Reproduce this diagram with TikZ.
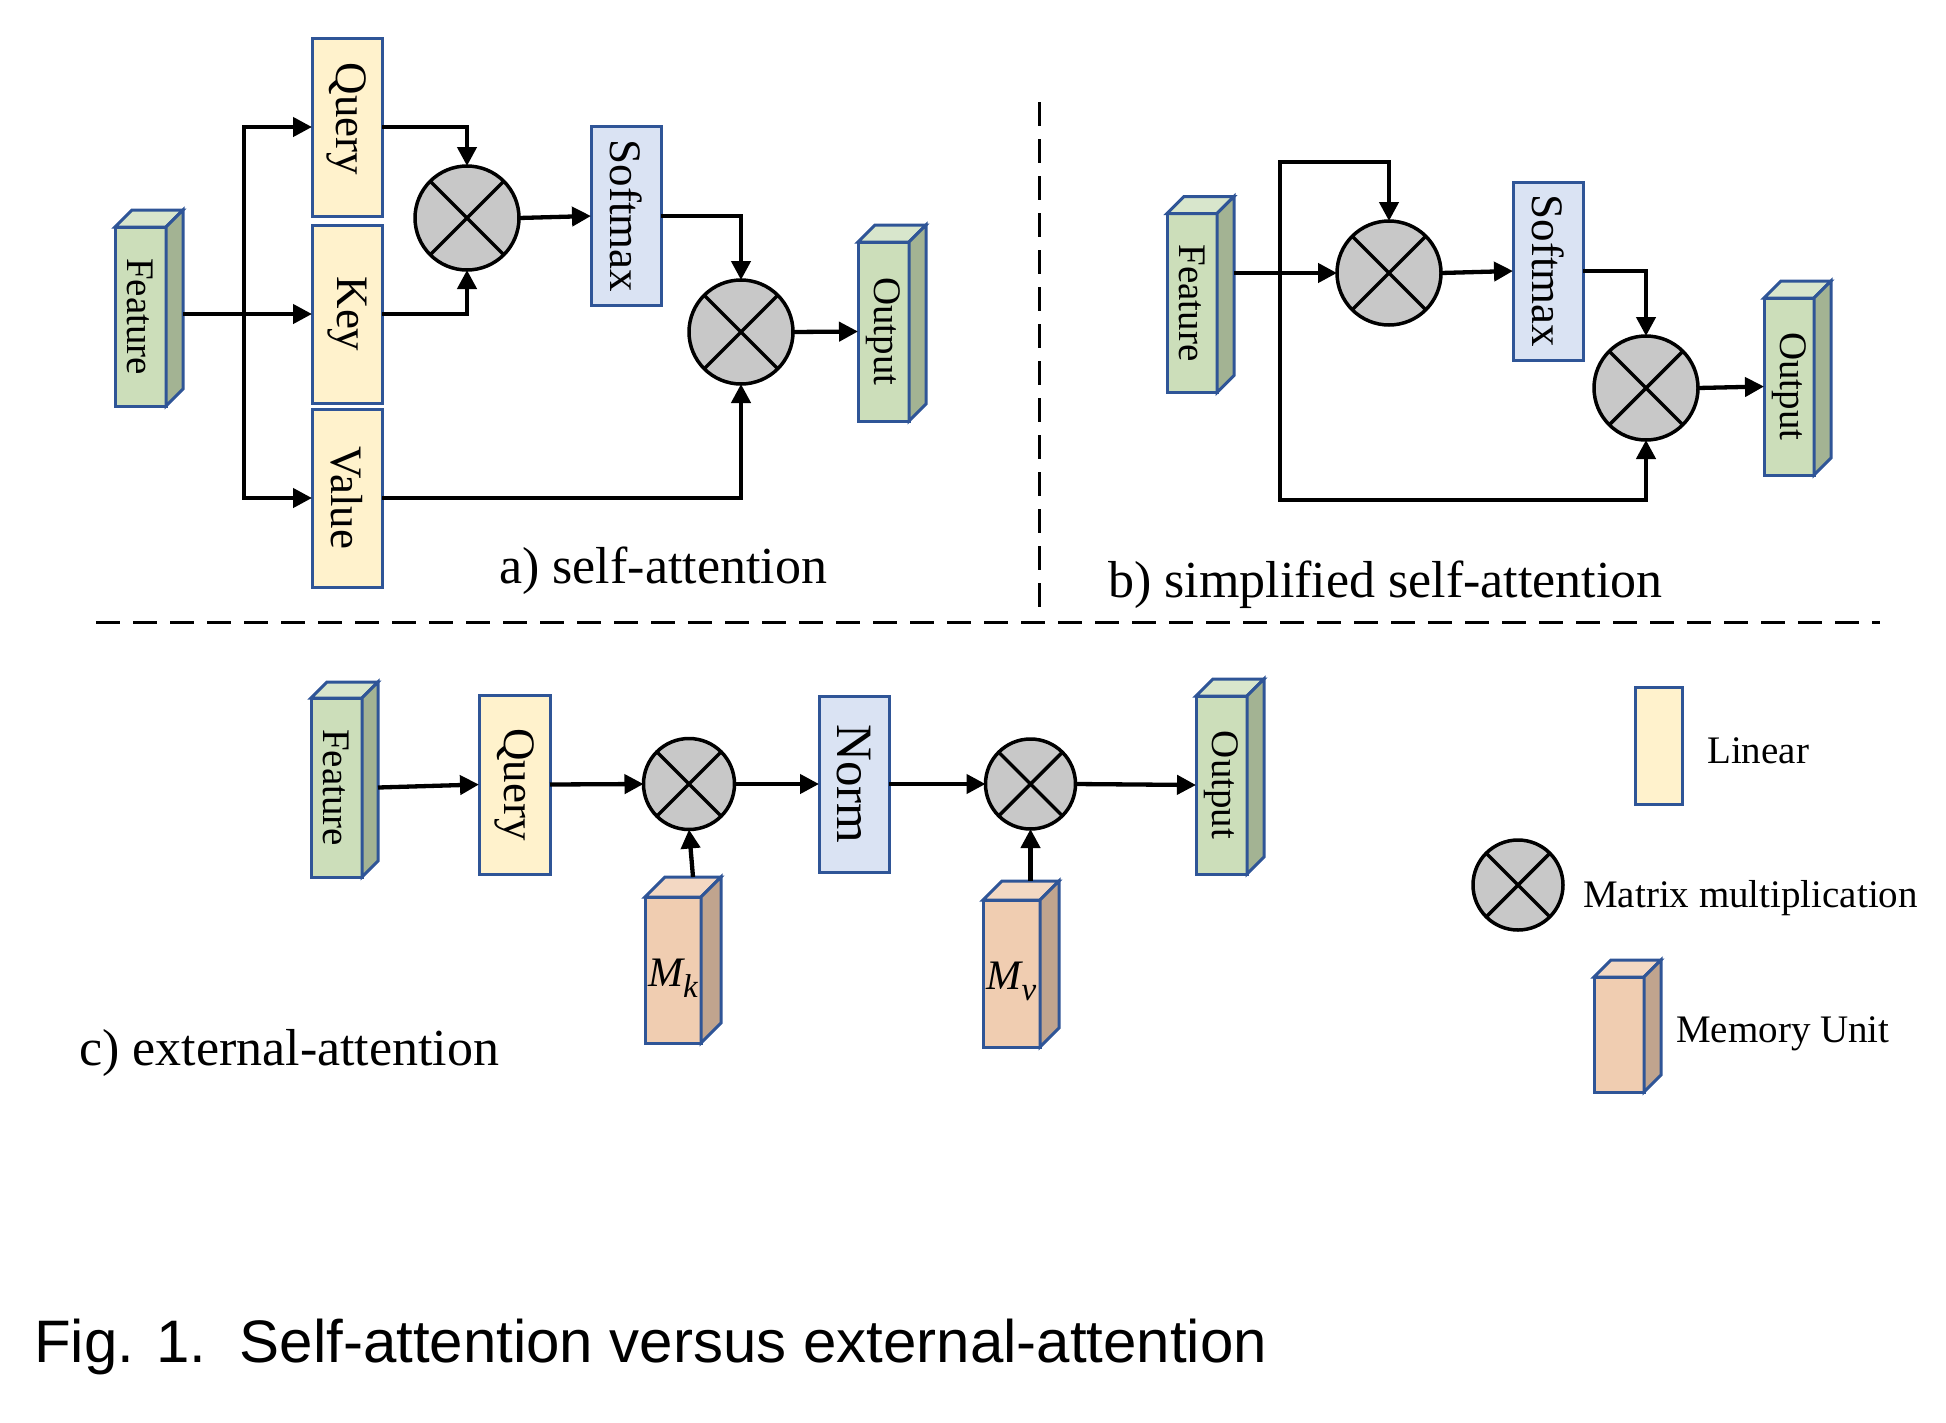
\documentclass[tikz,border=0pt]{standalone}
\usepackage{fontspec}
\setmainfont{Liberation Serif}
\newfontfamily\capfont{Liberation Sans}
\usetikzlibrary{arrows.meta}
\definecolor{bord}{RGB}{47,85,151}
\definecolor{grF}{RGB}{204,222,186}
\definecolor{grS}{RGB}{163,179,147}
\definecolor{grT}{RGB}{216,230,204}
\definecolor{yel}{RGB}{255,242,204}
\definecolor{blu}{RGB}{218,227,243}
\definecolor{orF}{RGB}{240,205,177}
\definecolor{orS}{RGB}{192,164,142}
\definecolor{orT}{RGB}{243,216,195}
\definecolor{cgray}{RGB}{200,200,200}
\tikzset{
 box/.style={draw=bord, line width=3pt, inner sep=0pt, outer sep=0pt, rectangle, line join=miter},
 linbox/.style={box, fill=yel},
 normbox/.style={box, fill=blu},
 featbox/.style={box, fill=grF},
 membox/.style={box, fill=orF},
 cubline/.style={draw=bord, line width=3pt, line join=miter},
 mult/.style={circle, draw=black, line width=3.5pt, fill=cgray, inner sep=0pt, outer sep=0pt},
 arr/.style={line width=4.3pt, -{Triangle[length=19pt,width=19pt]}},
 ln/.style={line width=4.3pt, line cap=rect},
 rot/.style={rotate=-90, inner sep=0pt},
 big/.style={font=\fontsize{45}{54}\selectfont},
 small/.style={font=\fontsize{39}{47}\selectfont},
 lab/.style={font=\fontsize{52}{62}\selectfont, anchor=base west, inner sep=0pt},
 leg/.style={font=\fontsize{39}{47}\selectfont, anchor=base west, inner sep=0pt},
 dsh/.style={line width=3pt, dash pattern=on 24pt off 13pt},
}
\newcommand\mycub[4]{%
 \draw[cubline, fill=#3] (#1.north west) -- ++(#2,-#2) -- ([shift={(#2,-#2)}]#1.north east) -- (#1.north east) -- cycle;
 \draw[cubline, fill=#4] (#1.north east) -- ([shift={(#2,-#2)}]#1.north east) -- ([shift={(#2,-#2)}]#1.south east) -- (#1.south east) -- cycle;}
\newcommand\mycross[1]{\draw[line width=3.5pt] (#1.north west) -- (#1.south east) (#1.north east) -- (#1.south west);}
\newcommand\memtext[1]{{\itshape M}\raisebox{-0.25em}{\fontsize{33}{35}\selectfont\itshape #1}}
\begin{document}
\begin{tikzpicture}[x=1pt,y=-1pt]
\useasboundingbox (0,0) rectangle (1946,1422);

% ---------- panel a ----------
\node[featbox, minimum width=51, minimum height=179] (fa) at (140.5,316.5) {};
\mycub{fa}{17}{grT}{grS}
\node[rot, small] at (fa) {Feature};
\node[linbox, minimum width=70, minimum height=178] (qa) at (347,127) {};
\node[rot, big] at ([yshift=8pt]qa.center) {Query};
\node[linbox, minimum width=70, minimum height=178] (ka) at (347,314) {};
\node[rot, big] at (ka) {Key};
\node[linbox, minimum width=70, minimum height=178] (va) at (347,498) {};
\node[rot, big] at (va) {Value};
\node[mult, minimum size=104] (m1) at (467,218) {};
\mycross{m1}
\node[normbox, minimum width=70, minimum height=179] (sa) at (626,216) {};
\node[rot, big] at (sa) {Softmax};
\node[mult, minimum size=104] (m2) at (741,332) {};
\mycross{m2}
\node[featbox, minimum width=51, minimum height=179] (oa) at (883.5,331.5) {};
\mycub{oa}{17}{grT}{grS}
\node[rot, small] at (oa) {Output};

\coordinate (fas) at ([xshift=17pt]fa.east);
\coordinate (bra) at (244,314);
\draw[ln] (bra |- qa.west) -- (bra |- va.west);
\draw[arr] (fas |- ka.west) -- (ka.west);
\draw[arr] (bra |- qa.west) -- (qa.west);
\draw[arr] (bra |- va.west) -- (va.west);
\draw[arr] (qa.east) -| (m1.north);
\draw[arr] (ka.east) -| (m1.south);
\draw[arr] (m1.east) -- (sa.west);
\draw[arr] (sa.east) -| (m2.north);
\draw[arr] (va.east) -| (m2.south);
\draw[arr] (m2.east) -- (oa.west);
\node[lab] (la) at (499,583) {a) self-attention};

% ---------- panel b ----------
\node[featbox, minimum width=50, minimum height=179] (fb) at (1192,303) {};
\mycub{fb}{17}{grT}{grS}
\node[rot, small] at (fb) {Feature};
\node[mult, minimum size=104] (m3) at (1389,273) {};
\mycross{m3}
\node[normbox, minimum width=70, minimum height=178] (sb) at (1548,271) {};
\node[rot, big] at (sb) {Softmax};
\node[mult, minimum size=104] (m4) at (1646,388) {};
\mycross{m4}
\node[featbox, minimum width=50, minimum height=177] (ob) at (1789,386.5) {};
\mycub{ob}{17}{grT}{grS}
\node[rot, small] at (ob) {Output};

\coordinate (fbs) at ([xshift=17pt]fb.east);
\coordinate (lbt) at (1280,162);
\coordinate (lbb) at (1280,500);
\draw[arr] (fbs |- m3.west) -- (m3.west);
\draw[ln] (lbt) -- (lbb);
\draw[arr] (lbt) -| (m3.north);
\draw[arr] (lbb) -| (m4.south);
\draw[arr] (m3.east) -- (sb.west);
\draw[arr] (sb.east) -| (m4.north);
\draw[arr] (m4.east) -- (ob.west);
\node[lab] (lb) at (1108,597) {b) simplified self-attention};

% ---------- separators ----------
\coordinate (dvt) at (1039,102);
\coordinate (dvb) at (1039,617);
\coordinate (dhl) at (96,622);
\coordinate (dhr) at (1880,622);
\draw[dsh] (dvt) -- (dvb);
\draw[dsh] (dhl) -- (dhr);

% ---------- panel c ----------
\node[featbox, minimum width=51, minimum height=179] (fc) at (336.5,787.5) {};
\mycub{fc}{16}{grT}{grS}
\node[rot, small] at (fc) {Feature};
\node[linbox, minimum width=71, minimum height=179] (qc) at (514.5,784.5) {};
\node[rot, big] at (qc) {Query};
\node[mult, minimum size=91] (m5) at (689,784) {};
\mycross{m5}
\node[normbox, minimum width=70, minimum height=176] (nc) at (854,784) {};
\node[rot, font=\fontsize{51}{60}\selectfont] at (nc) {Norm};
\node[mult, minimum size=90] (m6) at (1030.5,784) {};
\mycross{m6}
\node[featbox, minimum width=51, minimum height=178] (oc) at (1221.5,785) {};
\mycub{oc}{17}{grT}{grS}
\node[rot, small] at (oc) {Output};
\node[membox, minimum width=56, minimum height=146] (mk) at (673,970) {};
\mycub{mk}{20}{orT}{orS}
\node[font=\fontsize{42}{50}\selectfont, inner sep=0pt] at ([yshift=-8pt]mk.center) {\memtext{k}};
\node[membox, minimum width=57, minimum height=147] (mv) at (1011.5,973.5) {};
\mycub{mv}{19}{orT}{orS}
\node[font=\fontsize{42}{50}\selectfont, inner sep=0pt] at ([yshift=-8pt]mv.center) {\memtext{v}};

\coordinate (fcs) at ([xshift=16pt]fc.east);
\draw[arr] (fcs) -- (qc.west);
\draw[arr] (qc.east) -- (m5.west);
\draw[arr] (m5.east) -- (nc.west);
\draw[arr] (nc.east) -- (m6.west);
\draw[arr] (m6.east) -- (oc.west);
\draw[arr] ([shift={(20,-20)}]mk.north) -- (m5.south);
\draw[arr] ([shift={(19,-19)}]mv.north) -- (m6.south);
\node[lab] (lc) at (79,1065) {c) external-attention};

% ---------- legend ----------
\node[linbox, minimum width=47, minimum height=117] (ll) at (1658.5,745.5) {};
\node[leg] (llt) at (1707,763) {Linear};
\node[mult, minimum size=90] (lm) at (1518,885) {};
\mycross{lm}
\node[leg] (lmt) at (1583,907) {Matrix multiplication};
\node[membox, minimum width=50, minimum height=115] (lmem) at (1619,1034.5) {};
\mycub{lmem}{17}{orT}{orS}
\node[leg] (lmemt) at (1676,1042) {Memory Unit};

% ---------- caption ----------
\node[anchor=base west, inner sep=0pt, font=\capfont\fontsize{60}{72}\selectfont] (cap) at (34,1362) {Fig. 1.\ \ Self-attention versus external-attention};
\end{tikzpicture}
\end{document}
